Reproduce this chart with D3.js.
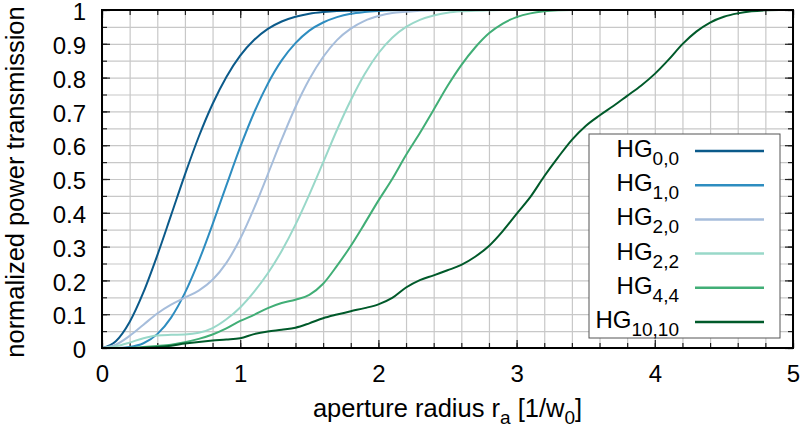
<!DOCTYPE html>
<html>
<head>
<meta charset="utf-8">
<script src="https://cdn.jsdelivr.net/npm/d3@7"></script>
<style>
  html, body { margin: 0; padding: 0; background: #fff; }
  svg { display: block; font-family: "Liberation Sans", Arial, Helvetica, sans-serif; }
</style>
</head>
<body>
<svg id="chart" width="800" height="432"></svg>
<script>
// ---- data ----
const radius = [0,0.1,0.2,0.3,0.4,0.5,0.6,0.7,0.8,0.9,1.0,1.1,1.2,1.3,1.4,1.5,1.6,1.7,1.8,1.9,2.0,2.1,2.2,2.3,2.4,2.5,2.6,2.7,2.8,2.9,3.0,3.1,3.2,3.3,3.4,3.5,3.6,3.7,3.8,3.9,4.0,4.1,4.2,4.3,4.4,4.5,4.6,4.7,4.8,4.9,5.0];

const hg00 = [0,0.020,0.077,0.165,0.274,0.393,0.513,0.625,0.722,0.802,0.865,0.911,0.944,0.966,0.980,0.989,0.994,0.997,0.998,0.999,
  1,1,1,1,1,1,1,1,1,1,1,1,1,1,1,1,1,1,1,1,1,1,1,1,1,1,1,1,1,1,1];
const hg10 = [0,0.000,0.003,0.014,0.041,0.090,0.163,0.257,0.366,0.481,0.594,0.696,0.782,0.851,0.902,0.939,0.963,0.979,0.989,0.994,0.997,0.999,0.999,
  1,1,1,1,1,1,1,1,1,1,1,1,1,1,1,1,1,1,1,1,1,1,1,1,1,1,1,1];
const hg20 = [0,0.010,0.036,0.069,0.102,0.128,0.149,0.170,0.202,0.252,0.323,0.413,0.514,0.617,0.713,0.795,0.861,0.911,0.945,0.968,0.982,0.991,0.995,0.998,0.999,
  1,1,1,1,1,1,1,1,1,1,1,1,1,1,1,1,1,1,1,1,1,1,1,1,1,1];
const hg22 = [0,0.005,0.016,0.029,0.037,0.039,0.040,0.045,0.059,0.085,0.120,0.166,0.221,0.287,0.365,0.454,0.549,0.645,0.733,0.810,0.872,0.918,0.950,0.971,0.984,0.992,0.996,0.998,0.999,
  1,1,1,1,1,1,1,1,1,1,1,1,1,1,1,1,1,1,1,1,1,1];
const hg44 = [0,0.000,0.001,0.003,0.006,0.010,0.017,0.027,0.040,0.058,0.080,0.098,0.118,0.133,0.143,0.157,0.190,0.243,0.302,0.368,0.436,0.500,0.571,0.636,0.705,0.775,0.837,0.889,0.931,0.960,0.979,0.990,0.996,0.999,
  1,1,1,1,1,1,1,1,1,1,1,1,1,1,1,1,1];
const hg1010 = [0,0.000,0.000,0.001,0.003,0.007,0.013,0.018,0.022,0.025,0.029,0.041,0.049,0.054,0.060,0.073,0.088,0.099,0.109,0.118,0.129,0.148,0.179,0.201,0.215,0.230,0.246,0.270,0.302,0.346,0.397,0.447,0.508,0.564,0.616,0.657,0.688,0.716,0.746,0.776,0.811,0.853,0.899,0.936,0.963,0.980,0.990,0.996,0.999,1,1];

const seriesNames = [["0,0"],["1,0"],["2,0"],["2,2"],["4,4"],["10,10"]];
const seriesValues = [hg00, hg10, hg20, hg22, hg44, hg1010];
const seriesColors = ["#0b5a8a", "#2e8dc0", "#a6bddb", "#99d8c9", "#41ae76", "#005a2a"];

const xMajor = [0,1,2,3,4,5];
const xTickLabels = ["0","1","2","3","4","5"];
const xMinor = [0,0.2,0.4,0.6,0.8,1,1.2,1.4,1.6,1.8,2,2.2,2.4,2.6,2.8,3,3.2,3.4,3.6,3.8,4,4.2,4.4,4.6,4.8,5];
const yMajor = [0,0.1,0.2,0.3,0.4,0.5,0.6,0.7,0.8,0.9,1];
const yTickLabels = ["0","0.1","0.2","0.3","0.4","0.5","0.6","0.7","0.8","0.9","1"];
const yMinor = [0,0.05,0.1,0.15,0.2,0.25,0.3,0.35,0.4,0.45,0.5,0.55,0.6,0.65,0.7,0.75,0.8,0.85,0.9,0.95,1];

// ---- layout ----
const L = 102, R = 793, T = 10, B = 348;
const svg = d3.select("#chart");
const x = d3.scaleLinear().domain([0,5]).range([L,R]);
const y = d3.scaleLinear().domain([0,1]).range([B,T]);
const FS = 24;     // tick labels
const FT = 25.5;   // axis titles

// grid
const grid = svg.append("g").attr("class","grid");
grid.append("g").attr("transform",`translate(0,${B})`)
  .call(d3.axisBottom(x).tickValues(xMinor).tickSize(-(B-T)).tickFormat(""))
  .call(g => g.select(".domain").remove())
  .call(g => g.selectAll("line").attr("stroke","#c8c8c8").attr("stroke-width",1.2));
grid.append("g").attr("transform",`translate(${L},0)`)
  .call(d3.axisLeft(y).tickValues(yMinor).tickSize(-(R-L)).tickFormat(""))
  .call(g => g.select(".domain").remove())
  .call(g => g.selectAll("line").attr("stroke","#c8c8c8").attr("stroke-width",1.2));

// ticks (inward, mirrored)
function tickAxis(axis, tr, vals, size) {
  svg.append("g").attr("transform", tr)
    .call(axis.tickValues(vals).tickSizeInner(-size).tickSizeOuter(0).tickFormat(""))
    .call(g => g.select(".domain").remove())
    .call(g => g.selectAll("line").attr("stroke","#222").attr("stroke-width",1.2));
}
tickAxis(d3.axisBottom(x), `translate(0,${B})`, xMinor, 5);
tickAxis(d3.axisBottom(x), `translate(0,${B})`, xMajor, 8);
tickAxis(d3.axisTop(x), `translate(0,${T})`, xMinor, 5);
tickAxis(d3.axisTop(x), `translate(0,${T})`, xMajor, 8);
tickAxis(d3.axisLeft(y), `translate(${L},0)`, yMinor, 5);
tickAxis(d3.axisLeft(y), `translate(${L},0)`, yMajor, 8);
tickAxis(d3.axisRight(y), `translate(${R},0)`, yMinor, 5);
tickAxis(d3.axisRight(y), `translate(${R},0)`, yMajor, 8);

// tick labels
svg.append("g").attr("transform",`translate(0,${B})`)
  .call(d3.axisBottom(x).tickValues(xMajor).tickSize(0).tickPadding(0)
        .tickFormat((d,i) => xTickLabels[i]))
  .call(g => g.select(".domain").remove())
  .call(g => g.selectAll("text").attr("font-size",FS).attr("font-family","Liberation Sans, Arial, sans-serif")
        .attr("fill","#000").attr("dy",null).attr("y",34));
svg.append("g").attr("transform",`translate(${L},0)`)
  .call(d3.axisLeft(y).tickValues(yMajor).tickSize(0).tickPadding(16)
        .tickFormat((d,i) => yTickLabels[i]))
  .call(g => g.select(".domain").remove())
  .call(g => g.selectAll("text").attr("font-size",FS).attr("font-family","Liberation Sans, Arial, sans-serif")
        .attr("fill","#000").attr("dy","0.4em"));

// curves
svg.append("clipPath").attr("id","clip").append("rect")
  .attr("x",L).attr("y",T-2).attr("width",R-L).attr("height",B-T+2);
const line = d3.line().x(d => x(d[0])).y(d => y(d[1])).curve(d3.curveMonotoneX);
const curves = svg.append("g").attr("clip-path","url(#clip)");
seriesValues.forEach((vals, i) => {
  const pts = radius.map((r, j) => [r, vals[j]]);
  curves.append("path").datum(pts)
    .attr("d", line).attr("fill","none")
    .attr("stroke", seriesColors[i]).attr("stroke-width", 2)
    .attr("stroke-linejoin","round");
});

// frame
svg.append("rect").attr("x",L).attr("y",T).attr("width",R-L).attr("height",B-T)
  .attr("fill","none").attr("stroke","#000").attr("stroke-width",2);

// axis titles
const xt = svg.append("text").attr("x",(L+R)/2).attr("y",417).attr("text-anchor","middle")
  .attr("font-size",FT).attr("fill","#000");
xt.append("tspan").text("aperture radius r");
xt.append("tspan").attr("font-size",19).attr("dy",7).text("a");
xt.append("tspan").attr("dy",-7).text(" [1/w");
xt.append("tspan").attr("font-size",19).attr("dy",7).text("0");
xt.append("tspan").attr("dy",-7).text("]");

svg.append("text").attr("transform",`translate(24,${(T+B)/2 + 3}) rotate(-90)`)
  .attr("text-anchor","middle").attr("font-size",FT).attr("fill","#000")
  .text("normalized power transmission");

// legend
const lg = svg.append("g");
lg.append("rect").attr("x",589).attr("y",134).attr("width",191).attr("height",204)
  .attr("fill","#fff").attr("stroke","#555").attr("stroke-width",1);
seriesNames.forEach((n, i) => {
  const yy = 151 + i*34.2;
  const t = lg.append("text").attr("x",679).attr("y",yy+6).attr("text-anchor","end")
    .attr("font-size",24).attr("fill","#000");
  t.append("tspan").text("HG");
  t.append("tspan").attr("font-size",19).attr("dy",8).text(n[0]);
  lg.append("line").attr("x1",695).attr("x2",764).attr("y1",yy).attr("y2",yy)
    .attr("stroke",seriesColors[i]).attr("stroke-width",2.5);
});
</script>
</body>
</html>
